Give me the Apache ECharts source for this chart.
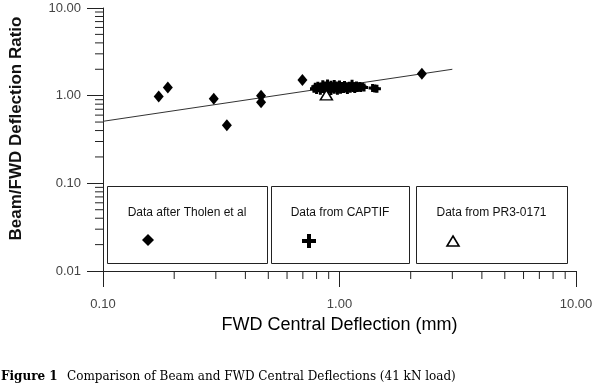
<!DOCTYPE html>
<html><head><meta charset="utf-8">
<script src="https://cdn.jsdelivr.net/npm/echarts@6/dist/echarts.min.js"></script>
<style>html,body{margin:0;padding:0;background:#fff}#c{width:600px;height:386px}</style>
</head><body><div id="c"></div>
<script>
// ---- data ----
const xMinorTicks = [0.2,0.3,0.4,0.5,0.6,0.7,0.8,0.9,2,3,4,5,6,7,8,9];
const yMinorTicks = [0.02,0.03,0.04,0.05,0.06,0.07,0.08,0.09,0.2,0.3,0.4,0.5,0.6,0.7,0.8,0.9,2,3,4,5,6,7,8,9];
const tholen = [[0.172,0.98],[0.188,1.24],[0.294,0.92],[0.334,0.46],[0.466,1.00],[0.466,0.84],[0.697,1.51],[2.23,1.78]];
const captif = [[0.78,1.20],[0.79,1.26],[0.80,1.16],[0.81,1.30],[0.82,1.22],[0.83,1.14],[0.84,1.27],[0.85,1.35],[0.85,1.19],[0.86,1.24],[0.87,1.31],[0.87,1.15],[0.88,1.22],[0.89,1.38],[0.89,1.27],[0.90,1.18],[0.91,1.24],[0.92,1.33],[0.92,1.13],[0.93,1.21],[0.94,1.28],[0.95,1.36],[0.95,1.17],[0.96,1.25],[0.97,1.31],[0.98,1.20],[0.98,1.14],[0.99,1.27],[1.00,1.34],[1.00,1.22],[1.01,1.17],[1.02,1.29],[1.03,1.24],[1.04,1.19],[1.05,1.32],[1.05,1.26],[1.06,1.21],[1.07,1.28],[1.08,1.16],[1.09,1.24],[1.10,1.30],[1.11,1.20],[1.12,1.26],[1.13,1.37],[1.14,1.22],[1.15,1.28],[1.16,1.19],[1.17,1.25],[1.18,1.31],[1.19,1.22],[1.20,1.27],[1.21,1.24],[1.22,1.29],[1.23,1.22],[1.25,1.26],[1.27,1.24],[1.38,1.22],[1.41,1.21],[1.44,1.20]];
const pr3 = [[0.88,1.02]];
const trend = [[0.1,0.51],[3.0,2.0]];
const legendLabels = ['Data after Tholen et al','Data from CAPTIF','Data from PR3-0171'];
const xTitle = 'FWD Central Deflection (mm)';
const yTitle = 'Beam/FWD Deflection Ratio';
const captionBold = 'Figure 1';
const captionText = 'Comparison of Beam and FWD Central Deflections (41 kN load)';

const plusPath = 'path://M2.5,0H5.5V2.5H8V5.5H5.5V8H2.5V5.5H0V2.5H2.5Z';
const chart = echarts.init(document.getElementById('c'), null, {renderer:'canvas'});

function minorTick(axis){
  return function(params, api){
    const p = api.coord([api.value(0), api.value(1)]);
    const shape = axis === 'x'
      ? {x1:p[0], y1:p[1], x2:p[0], y2:p[1]+8}
      : {x1:p[0]-8, y1:p[1], x2:p[0], y2:p[1]};
    return {type:'line', shape, style:{stroke:'#222', lineWidth:1}};
  };
}

const boxes = [
  {x:107, w:160},
  {x:271, w:138},
  {x:416, w:151}
];
const graphics = [];
boxes.forEach((b,i)=>{
  graphics.push({type:'rect', left:b.x, top:186, shape:{width:b.w, height:77}, style:{fill:'#fff', stroke:'#222', lineWidth:1}, z:10});
  graphics.push({type:'text', x:b.x + b.w/2, y:213, style:{text:legendLabels[i], font:'12px "Liberation Sans", Arial, sans-serif', fill:'#111', align:'center', verticalAlign:'middle'}, z:11});
});
graphics.push({type:'polygon', shape:{points:[[148,234],[154,240],[148,246],[142,240]]}, style:{fill:'#000'}, z:11});
graphics.push({type:'polygon', shape:{points:[[307,234],[311,234],[311,239],[316,239],[316,243],[311,243],[311,248],[307,248],[307,243],[302,243],[302,239],[307,239]]}, style:{fill:'#000'}, z:11});
graphics.push({type:'polygon', shape:{points:[[453,236],[459,246],[447,246]]}, style:{fill:'#fff', stroke:'#000', lineWidth:1.6}, z:11});
graphics.push({type:'text', left:1, top:371, style:{text:captionBold, font:'bold 12px "DejaVu Serif", serif', fill:'#000'}});
graphics.push({type:'text', left:67, top:371, style:{text:captionText, font:'12px "DejaVu Serif", serif', fill:'#000'}});

const option = {
  backgroundColor:'#fff',
  animation:false,
  grid:{left:102, right:24, top:8, bottom:115, containLabel:false},
  xAxis:{
    type:'log', logBase:10, min:0.1, max:10,
    name:xTitle, nameLocation:'middle', nameGap:42,
    nameTextStyle:{fontFamily:'"Liberation Sans", Arial, sans-serif', fontSize:18, color:'#000'},
    axisLine:{show:true, lineStyle:{color:'#222', width:1}},
    axisTick:{show:true, length:16, inside:false, lineStyle:{color:'#222'}},
    axisLabel:{formatter:v=>Number(v).toFixed(2), margin:27, fontFamily:'"Liberation Sans", Arial, sans-serif', fontSize:13, color:'#444'},
    splitLine:{show:false}
  },
  yAxis:{
    type:'log', logBase:10, min:0.01, max:10,
    name:yTitle, nameLocation:'middle', nameGap:78,
    nameTextStyle:{fontFamily:'"Liberation Sans", Arial, sans-serif', fontSize:17, fontWeight:'bold', color:'#111', padding:[0,0,0,22]},
    axisLine:{show:true, lineStyle:{color:'#222', width:1}},
    axisTick:{show:true, length:16, inside:false, lineStyle:{color:'#222'}},
    axisLabel:{formatter:v=>Number(v).toFixed(2), margin:22, fontFamily:'"Liberation Sans", Arial, sans-serif', fontSize:13, color:'#444'},
    splitLine:{show:false}
  },
  graphic:graphics,
  series:[
    {type:'custom', name:'xminor', data:xMinorTicks.map(v=>[v,0.01]), renderItem:minorTick('x'), clip:false, silent:true},
    {type:'custom', name:'yminor', data:yMinorTicks.map(v=>[0.1,v]), renderItem:minorTick('y'), clip:false, silent:true},
    {type:'line', name:'trend', data:trend, symbol:'none', lineStyle:{color:'#333', width:1}, silent:true, z:1},
    {type:'scatter', name:'CAPTIF', data:captif, symbol:plusPath, symbolSize:8, itemStyle:{color:'#000', opacity:1}, z:3},
    {type:'scatter', name:'Tholen', data:tholen, symbol:'diamond', symbolSize:[10,12], itemStyle:{color:'#000', opacity:1}, z:3},
    {type:'scatter', name:'PR3', data:pr3, symbol:'triangle', symbolSize:[12,10], itemStyle:{color:'#fff', borderColor:'#000', borderWidth:1.5, opacity:1}, z:4}
  ]
};
chart.setOption(option);
</script>
</body></html>
